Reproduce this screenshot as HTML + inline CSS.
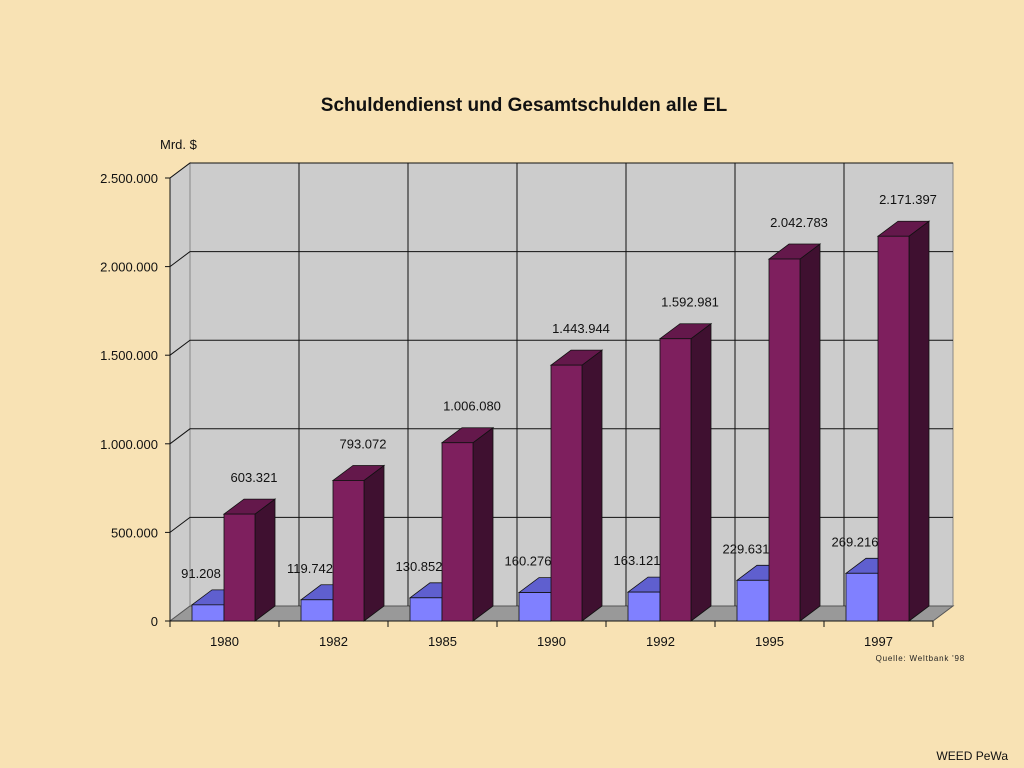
<!DOCTYPE html>
<html><head><meta charset="utf-8"><style>
body{margin:0;background:#f8e2b4;}
svg{display:block;font-family:"Liberation Sans",Arial,sans-serif;}
</style></head><body>
<svg id="c" width="1024" height="768">
<rect width="1024" height="768" fill="#f8e2b4"/>
<text x="524" y="111" text-anchor="middle" font-size="19" font-weight="bold" fill="#111">Schuldendienst und Gesamtschulden alle EL</text>
<text x="160" y="149" font-size="13" fill="#111">Mrd. $</text>
<text x="965" y="661" text-anchor="end" font-size="8" letter-spacing="0.8" fill="#222">Quelle: Weltbank '98</text>
<text x="1008" y="760" text-anchor="end" font-size="12" fill="#111">WEED PeWa</text>
<g id="plot"></g>
</svg>
<script>
const categories=["1980","1982","1985","1990","1992","1995","1997"];
const serviceValues=[91208,119742,130852,160276,163121,229631,269216];
const debtValues=[603321,793072,1006080,1443944,1592981,2042783,2171397];
const yTicks=[0,500000,1000000,1500000,2000000,2500000];
const yTickLabels=["0","500.000","1.000.000","1.500.000","2.000.000","2.500.000"];
const serviceLabels=["91.208","119.742","130.852","160.276","163.121","229.631","269.216"];
const debtLabels=["603.321","793.072","1.006.080","1.443.944","1.592.981","2.042.783","2.171.397"];

const NS="http://www.w3.org/2000/svg";
const g=document.getElementById('plot');
const X0=170,X1=933,Y0=621,YMAX=2500000,H=443,DX=20,DY=-15;
const cw=(X1-X0)/categories.length;
const y=v=>Y0-v/YMAX*H;
const xc=i=>X0+i*cw;
function el(t,a,name,txt){const e=document.createElementNS(NS,t);for(const k in a)e.setAttribute(k,a[k]);


if(txt!==undefined)e.textContent=txt;g.appendChild(e);return e;}
const pts=a=>a.map(p=>p.join(',')).join(' ');
// back wall
el('rect',{x:X0+DX,y:y(YMAX)+DY,width:X1-X0,height:H,fill:'#cccccc',stroke:'#888'},'back-wall');
// side wall
el('polygon',{points:pts([[X0,Y0],[X0+DX,Y0+DY],[X0+DX,y(YMAX)+DY],[X0,y(YMAX)]]),fill:'#cccccc',stroke:'#888'},'side-wall');
// floor
el('polygon',{points:pts([[X0,Y0],[X1,Y0],[X1+DX,Y0+DY],[X0+DX,Y0+DY]]),fill:'#999999',stroke:'#555'},'floor');
// gridlines
yTicks.forEach((v,i)=>{
 if(i>0){el('polyline',{points:pts([[X0,y(v)],[X0+DX,y(v)+DY],[X1+DX,y(v)+DY]]),fill:'none',stroke:'#111','stroke-width':1},'gridline');}
 el('line',{x1:X0-5,x2:X0,y1:y(v),y2:y(v),stroke:'#111'},'y-tick');
 el('text',{x:X0-12,y:y(v)+5,'text-anchor':'end','font-size':13,fill:'#111'},'y-tick-label',yTickLabels[i]);
});
for(let i=1;i<categories.length;i++){
 el('line',{x1:xc(i)+DX,x2:xc(i)+DX,y1:Y0+DY,y2:y(YMAX)+DY,stroke:'#111'},'category-gridline');
}
el('line',{x1:X0,x2:X0,y1:Y0,y2:y(YMAX),stroke:'#111'},'y-axis');
el('line',{x1:X0,x2:X1,y1:Y0,y2:Y0,stroke:'#111'},'x-axis');
function bar(x,w,v,cf,ct,cs,name){
 const t=y(v);
 el('polygon',{points:pts([[x+w,Y0],[x+w+DX,Y0+DY],[x+w+DX,t+DY],[x+w,t]]),fill:cs,stroke:'#111','stroke-width':0.8},name+'-side');
 el('polygon',{points:pts([[x,t],[x+DX,t+DY],[x+w+DX,t+DY],[x+w,t]]),fill:ct,stroke:'#111','stroke-width':0.8},name+'-top');
 el('rect',{x:x,y:t,width:w,height:Y0-t,fill:cf,stroke:'#111','stroke-width':0.8},name);
}
categories.forEach((c,i)=>{
 const bx=xc(i)+22;
 bar(bx,32,serviceValues[i],'#8080ff','#5f5fcf','#4a4aa0','service-bar-'+c);
 bar(bx+32,31,debtValues[i],'#7e1f5e','#64184b','#3f1030','debt-bar-'+c);
 el('text',{x:bx+9,y:y(serviceValues[i])+DY-12,'text-anchor':'middle','font-size':13,fill:'#111'},'service-value-label',serviceLabels[i]);
 el('text',{x:bx+32+30,y:y(debtValues[i])+DY-17,'text-anchor':'middle','font-size':13,fill:'#111'},'debt-value-label',debtLabels[i]);
 el('line',{x1:xc(i),x2:xc(i),y1:Y0,y2:Y0+6,stroke:'#111'},'x-tick');
 el('text',{x:xc(i)+cw/2,y:Y0+25,'text-anchor':'middle','font-size':13,fill:'#111'},'x-tick-label',c);
});
el('line',{x1:X1,x2:X1,y1:Y0,y2:Y0+6,stroke:'#111'},'x-tick');
</script>
</body></html>
